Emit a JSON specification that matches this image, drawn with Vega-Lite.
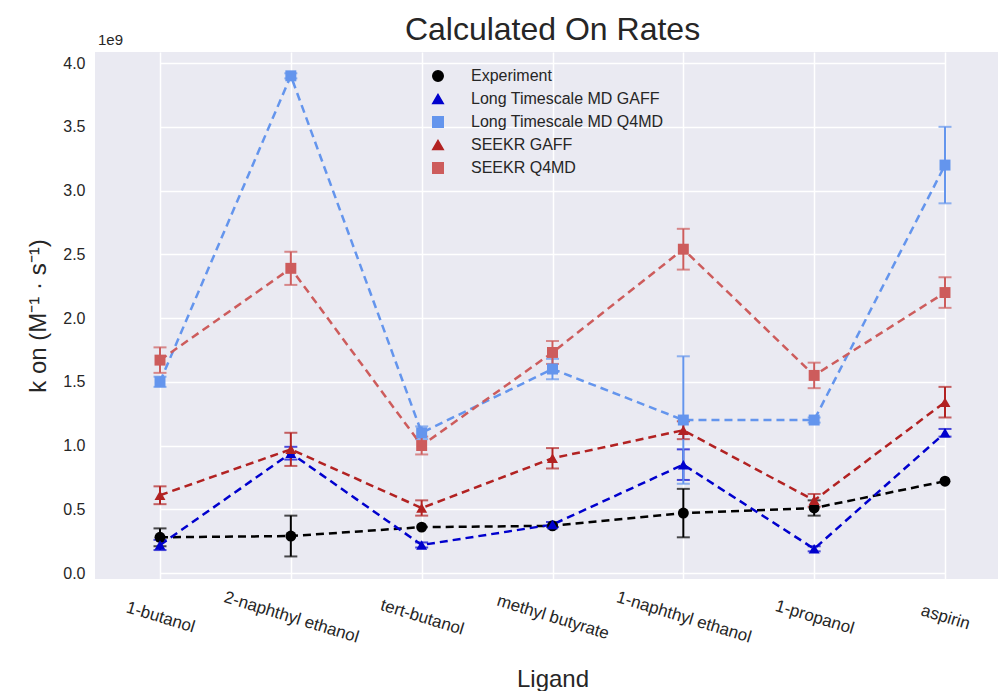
{
  "$schema": "https://vega.github.io/schema/vega-lite/v6.json",
  "autosize": "none",
  "width": 903,
  "height": 527,
  "padding": {"left": 95, "top": 52, "right": 0, "bottom": 112},
  "background": "white",
  "title": {"text": "Calculated On Rates", "fontSize": 32, "font": "Liberation Sans", "fontWeight": "normal", "color": "#262626", "offset": -14, "dx": 6},
  "config": {
    "font": "Liberation Sans",
    "view": {"fill": "#EAEAF2", "stroke": null},
    "axis": {"labelColor": "#262626", "titleColor": "#262626", "labelFont": "Liberation Sans", "titleFont": "Liberation Sans", "titleFontWeight": "normal", "gridColor": "white", "gridWidth": 1.5, "gridOpacity": 1, "domain": false, "ticks": false, "labelFontSize": 16, "titleFontSize": 24}
  },
  "data": {"values": [
    {"ligand": "1-butanol", "method": "Experiment", "k": 0.28, "err": 0.07},
    {"ligand": "2-naphthyl ethanol", "method": "Experiment", "k": 0.29, "err": 0.16},
    {"ligand": "tert-butanol", "method": "Experiment", "k": 0.36, "err": 0},
    {"ligand": "methyl butyrate", "method": "Experiment", "k": 0.37, "err": 0},
    {"ligand": "1-naphthyl ethanol", "method": "Experiment", "k": 0.47, "err": 0.19},
    {"ligand": "1-propanol", "method": "Experiment", "k": 0.51, "err": 0.06},
    {"ligand": "aspirin", "method": "Experiment", "k": 0.72, "err": 0},
    {"ligand": "1-butanol", "method": "Long Timescale MD GAFF", "k": 0.22, "err": 0.04},
    {"ligand": "2-naphthyl ethanol", "method": "Long Timescale MD GAFF", "k": 0.94, "err": 0.05},
    {"ligand": "tert-butanol", "method": "Long Timescale MD GAFF", "k": 0.22, "err": 0.02},
    {"ligand": "methyl butyrate", "method": "Long Timescale MD GAFF", "k": 0.38, "err": 0.02},
    {"ligand": "1-naphthyl ethanol", "method": "Long Timescale MD GAFF", "k": 0.85, "err": 0.12},
    {"ligand": "1-propanol", "method": "Long Timescale MD GAFF", "k": 0.19, "err": 0.02},
    {"ligand": "aspirin", "method": "Long Timescale MD GAFF", "k": 1.1, "err": 0.03},
    {"ligand": "1-butanol", "method": "Long Timescale MD Q4MD", "k": 1.5, "err": 0.04},
    {"ligand": "2-naphthyl ethanol", "method": "Long Timescale MD Q4MD", "k": 3.9, "err": 0.02},
    {"ligand": "tert-butanol", "method": "Long Timescale MD Q4MD", "k": 1.1, "err": 0.05},
    {"ligand": "methyl butyrate", "method": "Long Timescale MD Q4MD", "k": 1.6, "err": 0.08},
    {"ligand": "1-naphthyl ethanol", "method": "Long Timescale MD Q4MD", "k": 1.2, "err": 0.5},
    {"ligand": "1-propanol", "method": "Long Timescale MD Q4MD", "k": 1.2, "err": 0.02},
    {"ligand": "aspirin", "method": "Long Timescale MD Q4MD", "k": 3.2, "err": 0.3},
    {"ligand": "1-butanol", "method": "SEEKR GAFF", "k": 0.61, "err": 0.07},
    {"ligand": "2-naphthyl ethanol", "method": "SEEKR GAFF", "k": 0.97, "err": 0.13},
    {"ligand": "tert-butanol", "method": "SEEKR GAFF", "k": 0.51, "err": 0.06},
    {"ligand": "methyl butyrate", "method": "SEEKR GAFF", "k": 0.9, "err": 0.08},
    {"ligand": "1-naphthyl ethanol", "method": "SEEKR GAFF", "k": 1.12, "err": 0.07},
    {"ligand": "1-propanol", "method": "SEEKR GAFF", "k": 0.57, "err": 0.05},
    {"ligand": "aspirin", "method": "SEEKR GAFF", "k": 1.34, "err": 0.12},
    {"ligand": "1-butanol", "method": "SEEKR Q4MD", "k": 1.67, "err": 0.1},
    {"ligand": "2-naphthyl ethanol", "method": "SEEKR Q4MD", "k": 2.39, "err": 0.13},
    {"ligand": "tert-butanol", "method": "SEEKR Q4MD", "k": 1.0, "err": 0.07},
    {"ligand": "methyl butyrate", "method": "SEEKR Q4MD", "k": 1.73, "err": 0.09},
    {"ligand": "1-naphthyl ethanol", "method": "SEEKR Q4MD", "k": 2.54, "err": 0.16},
    {"ligand": "1-propanol", "method": "SEEKR Q4MD", "k": 1.55, "err": 0.1},
    {"ligand": "aspirin", "method": "SEEKR Q4MD", "k": 2.2, "err": 0.12}
  ]},
  "encoding": {
    "x": {"field": "ligand", "type": "ordinal", "sort": null,
      "scale": {"type": "point", "domain": ["1-butanol", "2-naphthyl ethanol", "tert-butanol", "methyl butyrate", "1-naphthyl ethanol", "1-propanol", "aspirin"], "range": [65, 850], "padding": 0},
      "axis": {"title": "Ligand", "labelAngle": 17, "labelFontSize": 17, "labelAlign": "center", "labelBaseline": "middle", "labelPadding": 38, "titlePadding": 22, "grid": true}},
    "y": {"field": "k", "type": "quantitative",
      "scale": {"domain": [-0.047, 4.087], "nice": false, "zero": false},
      "axis": {"title": "k on (M⁻¹ · s⁻¹)", "values": [0, 0.5, 1, 1.5, 2, 2.5, 3, 3.5, 4], "format": ".1f", "labelPadding": 10, "titlePadding": 12}},
    "color": {"field": "method", "type": "nominal",
      "scale": {"domain": ["Experiment", "Long Timescale MD GAFF", "Long Timescale MD Q4MD", "SEEKR GAFF", "SEEKR Q4MD"],
                "range": ["#000000", "#0000CD", "#6495ED", "#B22222", "#CD5C5C"]},
      "legend": {
        "title": null, "orient": "none", "legendX": 335, "legendY": 16, "padding": 0,
        "labelFontSize": 16, "labelColor": "#262626", "labelFont": "Liberation Sans", "labelLimit": 400,
        "labelOffset": 25, "rowPadding": 6, "symbolSize": 110, "symbolOpacity": 1
      }}
  },
  "layer": [
    {
      "transform": [{"filter": "datum.err > 0"}],
      "mark": {"type": "errorbar", "ticks": {"size": 13, "thickness": 2}, "rule": {"strokeWidth": 2}},
      "encoding": {
        "y": {"field": "k", "type": "quantitative"},
        "yError": {"field": "err"}
      }
    },
    {
      "mark": {"type": "line", "strokeWidth": 2.5, "strokeDash": [8, 5]},
      "encoding": {}
    },
    {
      "mark": {"type": "point", "filled": true, "opacity": 1, "size": 120},
      "encoding": {
        "shape": {"field": "method", "type": "nominal",
          "scale": {"domain": ["Experiment", "Long Timescale MD GAFF", "Long Timescale MD Q4MD", "SEEKR GAFF", "SEEKR Q4MD"],
                    "range": ["circle", "triangle-up", "square", "triangle-up", "square"]},
          "legend": {
            "title": null, "orient": "none", "legendX": 335, "legendY": 16, "padding": 0,
            "labelFontSize": 16, "labelColor": "#262626", "labelFont": "Liberation Sans", "labelLimit": 400,
            "labelOffset": 25, "rowPadding": 6, "symbolSize": 110, "symbolOpacity": 1
          }}
      }
    },
    {
      "data": {"values": [{"ligand": "1-butanol", "k": 4.087, "label": "1e9"}]},
      "mark": {"type": "text", "align": "left", "baseline": "bottom", "dx": -62, "dy": -4, "fontSize": 15, "font": "Liberation Sans", "color": "#262626"},
      "encoding": {"text": {"field": "label"}, "color": {"value": "#262626"}}
    }
  ]
}
